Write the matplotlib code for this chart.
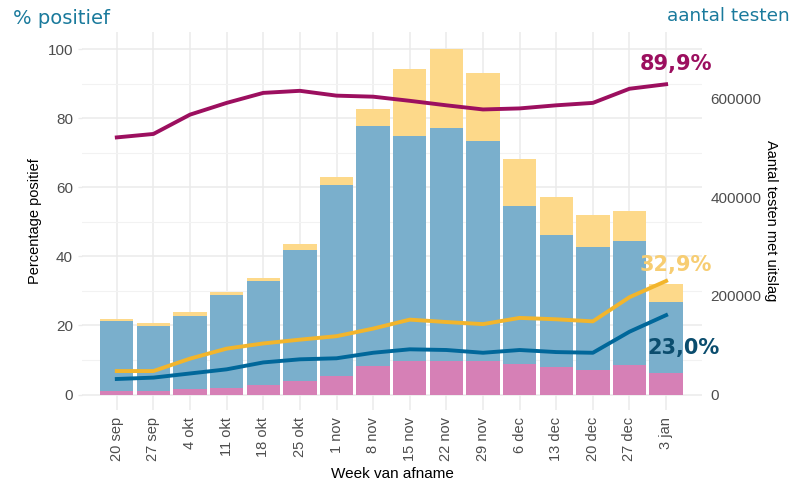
import numpy as np
import matplotlib
matplotlib.use("Agg")
import matplotlib.pyplot as plt

# data
weeks = ["20 sep", "27 sep", "4 okt", "11 okt", "18 okt", "25 okt", "1 nov", "8 nov",
         "15 nov", "22 nov", "29 nov", "6 dec", "13 dec", "20 dec", "27 dec", "3 jan"]

# aantal testen per week (stacked)
positief = [7000, 7000, 11000, 13000, 19000, 27000, 37000, 57000,
            69000, 69000, 69000, 62000, 55000, 50000, 60000, 43000]
negatief = [143000, 132000, 149000, 189000, 211000, 266000, 387000, 487000,
            455000, 471000, 445000, 320000, 268000, 250000, 251000, 144000]
overig = [4000, 6000, 7000, 6000, 7000, 12000, 17000, 36000,
          137000, 160000, 138000, 95000, 77000, 64000, 61000, 37000]

# percentages
pct_paars = [74.5, 75.5, 81.1, 84.5, 87.4, 88.0, 86.6, 86.3,
             85.1, 83.8, 82.6, 82.9, 83.8, 84.5, 88.6, 89.9]
pct_geel = [6.8, 6.8, 10.4, 13.3, 14.8, 15.9, 16.9, 19.1,
            21.7, 21.0, 20.4, 22.2, 21.8, 21.2, 28.2, 32.9]
pct_blauw = [4.5, 4.9, 6.1, 7.3, 9.3, 10.2, 10.5, 12.1,
             13.1, 12.9, 12.1, 12.9, 12.3, 12.1, 18.2, 23.0]

SCALE = 7000  # 100% on the left axis == 700000 tests on the right

c_pink = "#d680b6"
c_blue = "#7aafcc"
c_yel = "#fdd98a"
c_paars = "#9c0f5f"
c_geel = "#f2b52c"
c_blauw = "#00679a"
c_title = "#1a7a9c"
c_tick = "#4d4d4d"

fig = plt.figure(figsize=(8, 4.87), dpi=100)
ax = fig.add_axes([0.1025, 0.158, 0.775, 0.776])
ax2 = ax.twinx()

x = np.arange(len(weeks))
pos = np.array(positief) / SCALE
neg = np.array(negatief) / SCALE
ovr = np.array(overig) / SCALE

ax.set_axisbelow(True)
ax.bar(x, pos, width=0.91, color=c_pink, zorder=2)
ax.bar(x, neg, width=0.91, bottom=pos, color=c_blue, zorder=2)
ax.bar(x, ovr, width=0.91, bottom=pos + neg, color=c_yel, zorder=2)

ax.plot(x, pct_paars, color=c_paars, lw=2.8, zorder=3)
ax.plot(x, pct_geel, color=c_geel, lw=2.8, zorder=3)
ax.plot(x, pct_blauw, color=c_blauw, lw=2.8, zorder=3)

ax.text(15.27, 95.8, "89,9%", color=c_paars, fontsize=15, fontweight="bold",
        ha="center", va="center", zorder=4)
ax.text(15.27, 37.4, "32,9%", color="#f7cd72", fontsize=15, fontweight="bold",
        ha="center", va="center", zorder=4)
ax.text(15.47, 13.4, "23,0%", color="#0b4d6e", fontsize=15, fontweight="bold",
        ha="center", va="center", zorder=4)

ax.set_xlim(-0.95, 15.98)
ax.set_ylim(-4.5, 105)
ax2.set_ylim(-4.5 * SCALE, 105 * SCALE)

ax.set_yticks([0, 20, 40, 60, 80, 100])
ax.set_yticks([10, 30, 50, 70, 90], minor=True)
ax.set_xticks(x)
ax.set_xticklabels(weeks, rotation=90, fontsize=10.5, color=c_tick, family="Liberation Sans")
ax.tick_params(axis="y", labelsize=11, labelcolor=c_tick, length=3, color="#ebebeb", width=1)
ax.tick_params(axis="y", which="minor", length=0)
ax.tick_params(axis="x", length=0, pad=5)
for lab in ax.get_yticklabels():
    lab.set_family("Liberation Sans")

ax2.set_yticks([0, 200000, 400000, 600000])
ax2.set_yticklabels(["0", "200000", "400000", "600000"], family="Liberation Sans")
ax2.tick_params(axis="y", labelsize=11, labelcolor=c_tick, length=0, pad=6)

ax.grid(True, which="major", color="#ebebeb", lw=1.1)
ax.grid(True, which="minor", axis="y", color="#f2f2f2", lw=0.8)
for a in (ax, ax2):
    for s in a.spines.values():
        s.set_visible(False)

ax.set_ylabel("Percentage positief", fontsize=10.5, family="Liberation Sans", labelpad=4)
ax2.set_ylabel("Aantal testen met uitslag", fontsize=10.5, family="Liberation Sans",
               rotation=270, labelpad=12)
ax.set_xlabel("Week van afname", fontsize=11, family="Liberation Sans", labelpad=4)

fig.text(0.016, 0.963, "% positief", color=c_title, fontsize=14, ha="left", va="center")
fig.text(0.987, 0.968, "aantal testen", color=c_title, fontsize=13.3, ha="right", va="center")

fig.savefig("out.png", dpi=100)
